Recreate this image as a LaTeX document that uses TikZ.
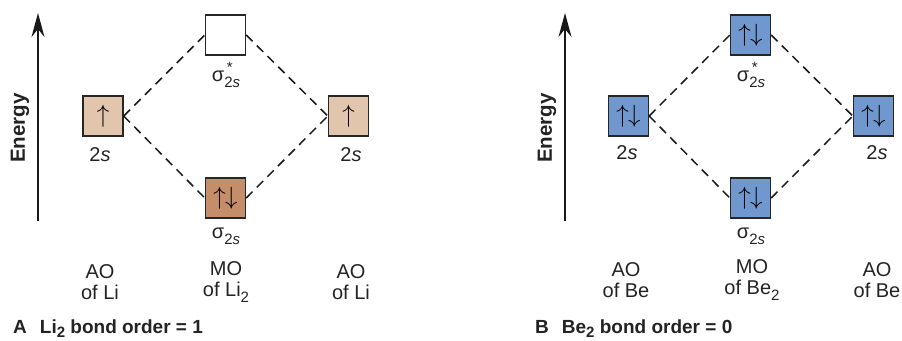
\documentclass[tikz,border=0pt]{standalone}
\usepackage{fontspec}
\setmainfont{Liberation Sans}
\usetikzlibrary{arrows.meta}
\definecolor{tanL}{RGB}{225,197,172}
\definecolor{tanD}{RGB}{197,141,105}
\definecolor{boxB}{RGB}{112,152,206}
\definecolor{txt}{RGB}{35,35,35}
\newcommand{\spinU}{$\uparrow$}
\newcommand{\spinUD}{$\uparrow\mkern-0.5mu\downarrow$}
\newcommand{\subsz}{\fontsize{15}{15}\selectfont}
\newcommand{\sigB}{σ\raisebox{-0.3em}{\subsz 2\textit{s}}}
\newcommand{\sigA}{σ\rlap{\raisebox{0.42em}{\subsz\,*}}\raisebox{-0.3em}{\subsz 2\textit{s}}}
\begin{document}
\begin{tikzpicture}[x=1pt,y=-1pt,
  orb/.style={draw=black!85, line width=1.4pt, minimum size=40pt, inner sep=0pt,
    font=\fontsize{33}{33}\selectfont},
  lbl/.style={font=\fontsize{20}{21}\selectfont, inner sep=0pt, text=txt, align=center},
  captxt/.style={font=\fontsize{19}{20}\selectfont\bfseries, inner sep=0pt, text=txt, anchor=base west},
  elbl/.style={font=\fontsize{20.5}{21}\selectfont\bfseries, inner sep=0pt, text=txt, rotate=90},
  corr/.style={dash pattern=on 9pt off 6pt, line width=1.5pt, black!90},
  energy/.style={line width=1.4pt, black!90, -{Stealth[length=24pt,width=13pt,inset=8pt]}}]
\useasboundingbox (0,0) rectangle (902,340);

% ---------- Panel A ----------
\coordinate (EAb) at (38,221);
\coordinate (EAt) at (38,13);
\draw[energy] (EAb) -- (EAt);
\node[elbl] (EA) at (20,128) {Energy};

\node[orb, fill=tanL] (A1) at (103,116) {\spinU};
\node[orb, fill=white] (As) at (225.5,35) {};
\node[orb, fill=tanD] (Ab) at (225.5,198) {\spinUD};
\node[orb, fill=tanL] (A2) at (348.5,116) {\spinU};

\draw[corr] (A1.east) -- (As.west);
\draw[corr] (A1.east) -- (Ab.west);
\draw[corr] (As.east) -- (A2.west);
\draw[corr] (Ab.east) -- (A2.west);

\node[lbl] (A1l) at (100,155) {2\textit{s}};
\node[lbl] (A2l) at (351,155) {2\textit{s}};
\node[lbl] (Asl) at (226,75) {\sigA};
\node[lbl] (Abl) at (226,236) {\sigB};

\node[lbl] (AO1) at (100,282) {AO\\of Li};
\node[lbl] (AMO) at (226,282) {MO\\of Li\raisebox{-0.3em}{\subsz 2}};
\node[lbl] (AO2) at (351,282) {AO\\of Li};

\node[captxt] (Acap) at (13,333) {A\hspace{13pt}Li\raisebox{-0.25em}{\subsz 2} bond order = 1};

% ---------- Panel B ----------
\coordinate (EBb) at (565,221);
\coordinate (EBt) at (565,13);
\draw[energy] (EBb) -- (EBt);
\node[elbl] (EB) at (547,128) {Energy};

\node[orb, fill=boxB] (B1) at (628.5,116) {\spinUD};
\node[orb, fill=boxB] (Bs) at (750.5,35) {\spinUD};
\node[orb, fill=boxB] (Bb) at (750.5,198) {\spinUD};
\node[orb, fill=boxB] (B2) at (873.5,116) {\spinUD};

\draw[corr] (B1.east) -- (Bs.west);
\draw[corr] (B1.east) -- (Bb.west);
\draw[corr] (Bs.east) -- (B2.west);
\draw[corr] (Bb.east) -- (B2.west);

\node[lbl] (B1l) at (627,153) {2\textit{s}};
\node[lbl] (B2l) at (877,153) {2\textit{s}};
\node[lbl] (Bsl) at (751,75) {\sigA};
\node[lbl] (Bbl) at (751,236) {\sigB};

\node[lbl] (BO1) at (626,280) {AO\\of Be};
\node[lbl] (BMO) at (752,280) {MO\\of Be\raisebox{-0.3em}{\subsz 2}};
\node[lbl] (BO2) at (877,280) {AO\\of Be};

\node[captxt] (Bcap) at (535,333) {B\hspace{13pt}Be\raisebox{-0.25em}{\subsz 2} bond order = 0};
\end{tikzpicture}
\end{document}
